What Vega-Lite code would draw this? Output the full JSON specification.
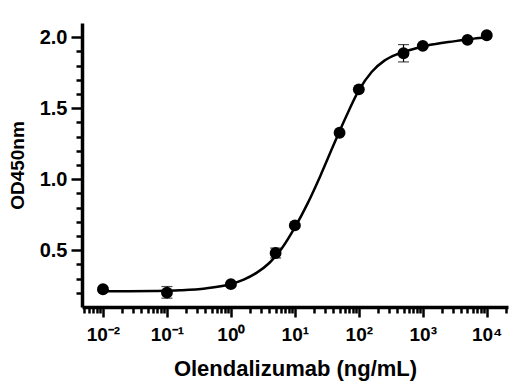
{
  "$schema": "https://vega.github.io/schema/vega-lite/v6.json",
  "width": 426,
  "height": 284,
  "autosize": "none",
  "padding": {"left": 82, "top": 23, "right": 13, "bottom": 83},
  "config": {
    "view": {"stroke": null},
    "font": "Liberation Sans",
    "axis": {
      "grid": false,
      "domainColor": "black",
      "domainWidth": 3.5,
      "tickColor": "black",
      "tickWidth": 2.5,
      "labelColor": "black",
      "labelFont": "Liberation Sans",
      "labelFontWeight": "bold",
      "titleFont": "Liberation Sans",
      "titleFontWeight": "bold",
      "titleColor": "black",
      "labelOverlap": false,
      "labelFlush": false
    }
  },
  "datasets": {
    "points": [
      {"conc": 0.01, "od": 0.225, "lo": 0.215, "hi": 0.235},
      {"conc": 0.1, "od": 0.201, "lo": 0.162, "hi": 0.244},
      {"conc": 1, "od": 0.261, "lo": 0.25, "hi": 0.272},
      {"conc": 5, "od": 0.48, "lo": 0.445, "hi": 0.515},
      {"conc": 10, "od": 0.675, "lo": 0.665, "hi": 0.685},
      {"conc": 50, "od": 1.327, "lo": 1.317, "hi": 1.337},
      {"conc": 100, "od": 1.633, "lo": 1.623, "hi": 1.643},
      {"conc": 500, "od": 1.887, "lo": 1.826, "hi": 1.948},
      {"conc": 1000, "od": 1.939, "lo": 1.929, "hi": 1.949},
      {"conc": 5000, "od": 1.981, "lo": 1.971, "hi": 1.991},
      {"conc": 10000, "od": 2.014, "lo": 2.004, "hi": 2.024}
    ],
    "curve": [
      {"conc": 0.01, "od": 0.211},
      {"conc": 0.0251, "od": 0.2112},
      {"conc": 0.0631, "od": 0.213},
      {"conc": 0.1585, "od": 0.2178},
      {"conc": 0.398, "od": 0.2305},
      {"conc": 1, "od": 0.262},
      {"conc": 1.585, "od": 0.293},
      {"conc": 2.512, "od": 0.34},
      {"conc": 3.981, "od": 0.41},
      {"conc": 6.31, "od": 0.515},
      {"conc": 10, "od": 0.66},
      {"conc": 15.85, "od": 0.83},
      {"conc": 25.12, "od": 1.025},
      {"conc": 39.81, "od": 1.235},
      {"conc": 63.1, "od": 1.44},
      {"conc": 100, "od": 1.625},
      {"conc": 158.5, "od": 1.755},
      {"conc": 251.2, "od": 1.835},
      {"conc": 398.1, "od": 1.88},
      {"conc": 631, "od": 1.91},
      {"conc": 1000, "od": 1.935},
      {"conc": 1585, "od": 1.952},
      {"conc": 2512, "od": 1.966},
      {"conc": 3981, "od": 1.978},
      {"conc": 6310, "od": 1.99},
      {"conc": 10000, "od": 2.0}
    ]
  },
  "layer": [
    {
      "data": {"name": "curve"},
      "mark": {"type": "line", "color": "black", "strokeWidth": 2.5, "interpolate": "monotone"},
      "encoding": {
        "x": {
          "field": "conc",
          "type": "quantitative",
          "scale": {"type": "log", "domain": [0.0047, 21500], "nice": false},
          "axis": {
            "title": "Olendalizumab (ng/mL)",
            "titleFontSize": 22,
            "titlePadding": 14,
            "labelFontSize": 19,
            "labelPadding": 8,
            "tickCount": 100,
            "values": [0.005, 0.006, 0.007, 0.008, 0.009, 0.01, 0.02, 0.03, 0.04, 0.05, 0.06, 0.07, 0.08, 0.09, 0.1, 0.2, 0.3, 0.4, 0.5, 0.6, 0.7, 0.8, 0.9, 1, 2, 3, 4, 5, 6, 7, 8, 9, 10, 20, 30, 40, 50, 60, 70, 80, 90, 100, 200, 300, 400, 500, 600, 700, 800, 900, 1000, 2000, 3000, 4000, 5000, 6000, 7000, 8000, 9000, 10000, 20000],
            "labelExpr": "datum.value == 0.01 ? '10⁻²' : datum.value == 0.1 ? '10⁻¹' : datum.value == 1 ? '10⁰' : datum.value == 10 ? '10¹' : datum.value == 100 ? '10²' : datum.value == 1000 ? '10³' : datum.value == 10000 ? '10⁴' : ''",
            "tickSize": {"condition": {"test": "indexof([0.01,0.1,1,10,100,1000,10000], datum.value) >= 0", "value": 10}, "value": 6}
          }
        },
        "y": {
          "field": "od",
          "type": "quantitative",
          "scale": {"domain": [0.1, 2.1], "nice": false, "zero": false},
          "axis": {
            "title": "OD450nm",
            "titleFontSize": 19,
            "titlePadding": 12,
            "labelFontSize": 20,
            "labelPadding": 4,
            "tickCount": 100,
            "values": [0.2, 0.3, 0.4, 0.5, 0.6, 0.7, 0.8, 0.9, 1, 1.1, 1.2, 1.3, 1.4, 1.5, 1.6, 1.7, 1.8, 1.9, 2],
            "labelExpr": "indexof([0.5,1,1.5,2], datum.value) >= 0 ? format(datum.value, '.1f') : ''",
            "tickSize": {"condition": {"test": "indexof([0.5,1,1.5,2], datum.value) >= 0", "value": 11}, "value": 6}
          }
        }
      }
    },
    {
      "data": {"name": "points"},
      "mark": {"type": "rule", "color": "black", "strokeWidth": 1.2},
      "encoding": {
        "x": {"field": "conc", "type": "quantitative"},
        "y": {"field": "lo", "type": "quantitative"},
        "y2": {"field": "hi"}
      }
    },
    {
      "data": {"name": "points"},
      "mark": {"type": "tick", "color": "black", "orient": "horizontal", "size": 11, "thickness": 1.2},
      "encoding": {
        "x": {"field": "conc", "type": "quantitative"},
        "y": {"field": "lo", "type": "quantitative"}
      }
    },
    {
      "data": {"name": "points"},
      "mark": {"type": "tick", "color": "black", "orient": "horizontal", "size": 11, "thickness": 1.2},
      "encoding": {
        "x": {"field": "conc", "type": "quantitative"},
        "y": {"field": "hi", "type": "quantitative"}
      }
    },
    {
      "data": {"name": "points"},
      "mark": {"type": "point", "filled": true, "shape": "circle", "color": "black", "opacity": 1, "size": 140},
      "encoding": {
        "x": {"field": "conc", "type": "quantitative"},
        "y": {"field": "od", "type": "quantitative"}
      }
    }
  ]
}
